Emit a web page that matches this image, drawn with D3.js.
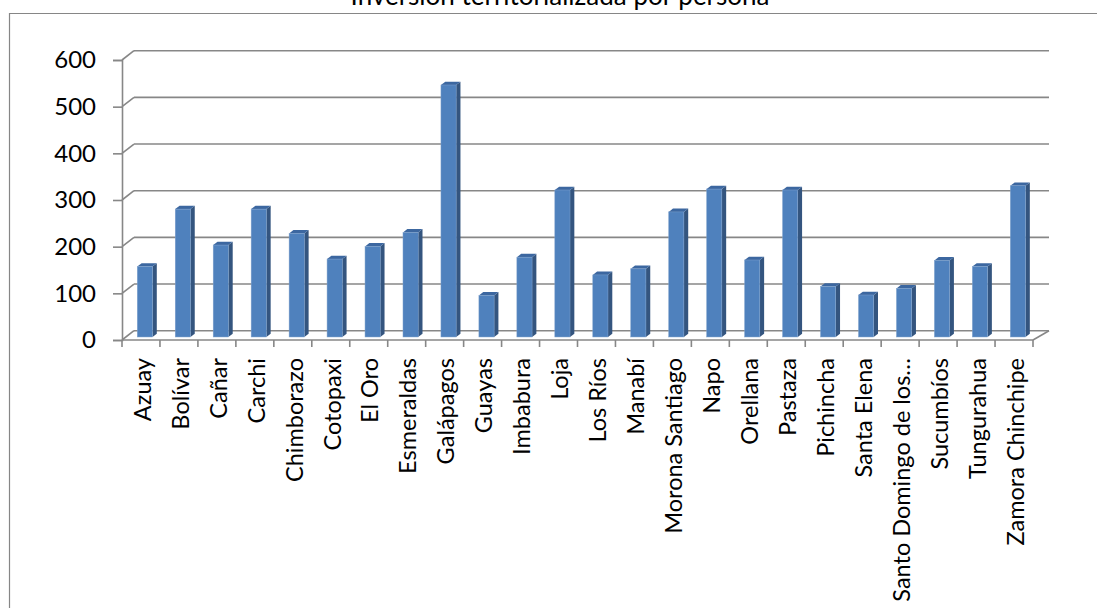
<!DOCTYPE html>
<html>
<head>
<meta charset="utf-8">
<script src="https://cdn.jsdelivr.net/npm/d3@7"></script>
<style>
  html, body { margin: 0; padding: 0; background: #fff; }
  svg { display: block; }
  text { font-family: Lato, "Liberation Sans", sans-serif; fill: #000; }
</style>
</head>
<body>
<svg id="chart" width="1097" height="608"></svg>
<script>
const title = "Inversión territorializada por persona";
const categories = ["Azuay","Bolívar","Cañar","Carchi","Chimborazo","Cotopaxi","El Oro","Esmeraldas","Galápagos","Guayas","Imbabura","Loja","Los Ríos","Manabí","Morona Santiago","Napo","Orellana","Pastaza","Pichincha","Santa Elena","Santo Domingo de los…","Sucumbíos","Tungurahua","Zamora Chinchipe"];
const values = [151,274,197,274,222,167,194,224,540,89,171,315,133,146,268,317,165,315,108,90,104,164,151,324];
const yTicks = [0,100,200,300,400,500,600];

const svg = d3.select("#chart");

// layout
const X0 = 122, X1 = 1033, Y0 = 340, Y1 = 60;
const DX = 12, DY = -9.3;         // wall depth
const BF = 0.325;                 // bar front plane depth fraction
const BD = 0.36;                  // bar depth fraction

const x = d3.scaleBand().domain(categories).range([X0, X1]).paddingInner(0).paddingOuter(0);
const y = d3.scaleLinear().domain([0, 600]).range([Y0, Y1]);

// outer border
svg.append("path")
  .attr("d", `M9.5,620 L9.5,13.5 L1100,13.5`)
  .attr("fill", "none").attr("stroke", "#868686").attr("stroke-width", 1.2);

// title
svg.append("text")
  .attr("x", 560).attr("y", 5)
  .attr("text-anchor", "middle")
  .style("font-size", "26px")
  .text(title);

const gridColor = "#878787";
const grid = svg.append("g");
// back wall gridlines + left wall diagonals
yTicks.forEach(v => {
  grid.append("line")
    .attr("x1", X0 + DX).attr("x2", X1 + 16)
    .attr("y1", y(v) + DY).attr("y2", y(v) + DY)
    .attr("stroke", gridColor).attr("stroke-width", 1.6);
  grid.append("line")
    .attr("x1", X0).attr("x2", X0 + DX)
    .attr("y1", y(v)).attr("y2", y(v) + DY)
    .attr("stroke", gridColor).attr("stroke-width", 1.6);
});
// floor right edge
grid.append("line")
  .attr("x1", X1).attr("y1", y(0))
  .attr("x2", X1 + 16).attr("y2", y(0) + DY)
  .attr("stroke", gridColor).attr("stroke-width", 1.6);

// y axis
const yAxis = svg.append("g")
  .attr("transform", `translate(${X0},0)`)
  .call(d3.axisLeft(y).tickValues(yTicks).tickSize(9).tickPadding(17).tickFormat(d3.format("d")));
yAxis.select(".domain").attr("stroke", gridColor).attr("stroke-width", 1.6);
yAxis.selectAll(".tick line").attr("stroke", gridColor).attr("stroke-width", 1.6);
yAxis.selectAll("text").style("font-size", "24px").attr("fill", "#000").style("font-family", "Lato, sans-serif");

// x axis front line
svg.append("line")
  .attr("x1", X0).attr("x2", X1).attr("y1", y(0)).attr("y2", y(0))
  .attr("stroke", gridColor).attr("stroke-width", 1.6);
// boundary ticks
const bounds = categories.map(c => x(c)).concat([X1]);
svg.append("g").selectAll("line").data(bounds).join("line")
  .attr("x1", d => d).attr("x2", d => d)
  .attr("y1", y(0)).attr("y2", y(0) + 7)
  .attr("stroke", gridColor).attr("stroke-width", 1.6);

// x labels
const xAxis = svg.append("g")
  .attr("transform", `translate(0,${Y0})`)
  .call(d3.axisBottom(x).tickSize(0));
xAxis.select(".domain").remove();
xAxis.selectAll("text")
  .style("font-size", "23.5px").style("font-family", "Lato, sans-serif").attr("fill", "#000")
  .attr("text-anchor", "end")
  .attr("transform", "rotate(-90)")
  .attr("x", -18).attr("y", 1.5).attr("dy", "0.35em");

// bars
const bw = x.bandwidth() * 0.4;
const bx = DX * BF, by = DY * BF;
const sdx = DX * BD, sdy = DY * BD;
const bars = svg.append("g");
categories.forEach((c, i) => {
  const v = values[i];
  const x0 = x(c) + x.bandwidth() * 0.3 + bx;
  const top = y(v) + by, bot = y(0) + by;
  // side
  bars.append("path")
    .attr("d", `M${x0 + bw},${top} L${x0 + bw + sdx},${top + sdy} L${x0 + bw + sdx},${bot + sdy} L${x0 + bw},${bot} Z`)
    .attr("fill", "#34557F");
  // top
  bars.append("path")
    .attr("d", `M${x0},${top} L${x0 + sdx},${top + sdy} L${x0 + bw + sdx},${top + sdy} L${x0 + bw},${top} Z`)
    .attr("fill", "#3C67A0");
  // front
  bars.append("rect")
    .attr("x", x0).attr("y", top)
    .attr("width", bw).attr("height", bot - top)
    .attr("fill", "#4F81BD")
    .attr("stroke", "#7FA1CC").attr("stroke-width", 0.5);
});
</script>
</body>
</html>
